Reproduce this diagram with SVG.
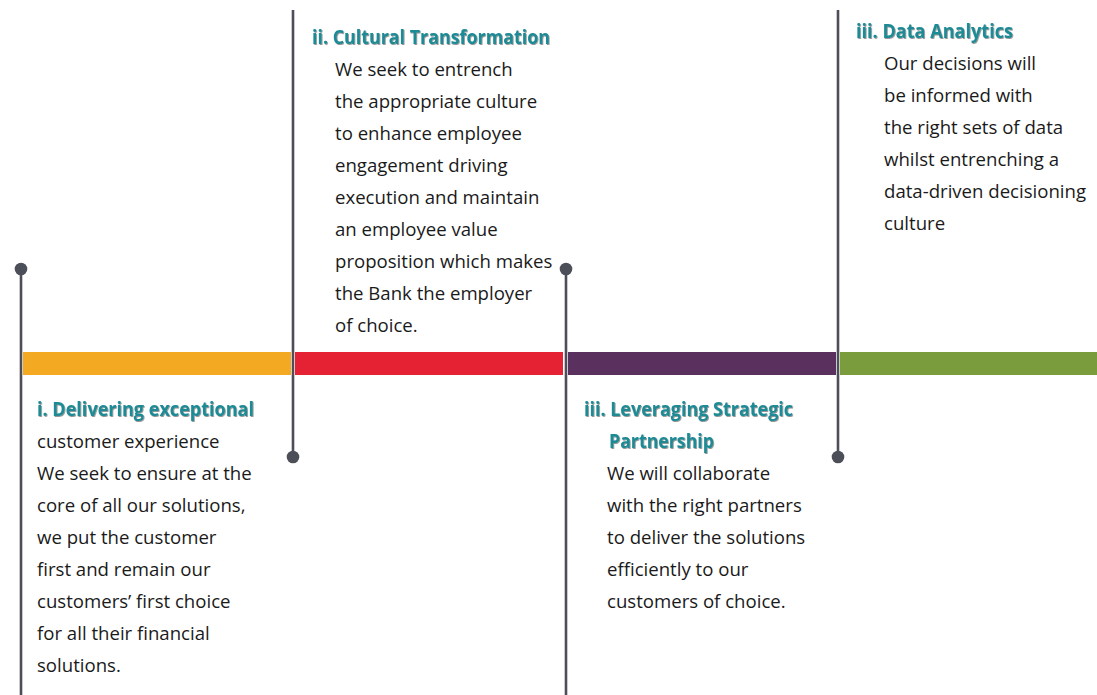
<svg xmlns="http://www.w3.org/2000/svg" width="1097" height="695" viewBox="0 0 1097 695">
  <defs>
    <filter id="hshadow" x="-5%" y="-30%" width="110%" height="160%">
      <feDropShadow dx="0.8" dy="0.9" stdDeviation="0.5" flood-color="#2a2a2a" flood-opacity="0.55"/>
    </filter>
  </defs>
  <style>
    .seg { stroke: none; }
    .stem { stroke: #4c4e58; stroke-width: 2.6; fill: none; }
    .dot { fill: #4c4e58; }
    .head { font-family: "Open Sans", "Liberation Sans", sans-serif; font-weight: 700; font-size: 19.5px; fill: #1d8b95; filter: url(#hshadow); }
    .body { font-family: "Open Sans", "Liberation Sans", sans-serif; font-size: 18.6px; fill: #1a1a1a; }
  </style>
  <rect width="1097" height="695" fill="#ffffff"/>

  <!-- timeline bar -->
  <g id="timeline">
    <rect class="seg" x="23" y="352" width="268" height="23" fill="#f4a922"/>
    <rect class="seg" x="295" y="352" width="268" height="23" fill="#e52234"/>
    <rect class="seg" x="568" y="352" width="268" height="23" fill="#5a315e"/>
    <rect class="seg" x="840" y="352" width="257" height="23" fill="#7a9c3d"/>
  </g>

  <!-- stems with end dots -->
  <g id="connectors">
    <line class="stem" x1="21" y1="269" x2="21" y2="695"/>
    <circle class="dot" cx="21" cy="269" r="6.3"/>
    <line class="stem" x1="293" y1="10" x2="293" y2="457"/>
    <circle class="dot" cx="293" cy="457" r="6.3"/>
    <line class="stem" x1="566" y1="269" x2="566" y2="695"/>
    <circle class="dot" cx="566" cy="269" r="6.3"/>
    <line class="stem" x1="838" y1="10" x2="838" y2="457"/>
    <circle class="dot" cx="838" cy="457" r="6.3"/>
  </g>

  <!-- i. customer experience -->
  <g id="node-customer">
    <text class="head" x="37" y="416" textLength="217" lengthAdjust="spacingAndGlyphs">i. Delivering exceptional</text>
    <text class="body" x="37" y="448">customer experience</text>
    <text class="body" x="37" y="480">We seek to ensure at the</text>
    <text class="body" x="37" y="512">core of all our solutions,</text>
    <text class="body" x="37" y="544">we put the customer</text>
    <text class="body" x="37" y="576">first and remain our</text>
    <text class="body" x="37" y="608">customers’ first choice</text>
    <text class="body" x="37" y="640">for all their financial</text>
    <text class="body" x="37" y="672">solutions.</text>
  </g>

  <!-- ii. culture -->
  <g id="node-culture">
    <text class="head" x="312" y="44" textLength="238" lengthAdjust="spacingAndGlyphs">ii. Cultural Transformation</text>
    <text class="body" x="335" y="76">We seek to entrench</text>
    <text class="body" x="335" y="108">the appropriate culture</text>
    <text class="body" x="335" y="140">to enhance employee</text>
    <text class="body" x="335" y="172">engagement driving</text>
    <text class="body" x="335" y="204">execution and maintain</text>
    <text class="body" x="335" y="236">an employee value</text>
    <text class="body" x="335" y="268">proposition which makes</text>
    <text class="body" x="335" y="300">the Bank the employer</text>
    <text class="body" x="335" y="332">of choice.</text>
  </g>

  <!-- iii. partnerships -->
  <g id="node-partnership">
    <text class="head" x="584" y="416" textLength="209" lengthAdjust="spacingAndGlyphs">iii. Leveraging Strategic</text>
    <text class="head" x="609" y="448" textLength="105" lengthAdjust="spacingAndGlyphs">Partnership</text>
    <text class="body" x="607" y="480">We will collaborate</text>
    <text class="body" x="607" y="512">with the right partners</text>
    <text class="body" x="607" y="544">to deliver the solutions</text>
    <text class="body" x="607" y="576">efficiently to our</text>
    <text class="body" x="607" y="608">customers of choice.</text>
  </g>

  <!-- iii. data -->
  <g id="node-data">
    <text class="head" x="856" y="38" textLength="157" lengthAdjust="spacingAndGlyphs">iii. Data Analytics</text>
    <text class="body" x="884" y="70">Our decisions will</text>
    <text class="body" x="884" y="102">be informed with</text>
    <text class="body" x="884" y="134">the right sets of data</text>
    <text class="body" x="884" y="166">whilst entrenching a</text>
    <text class="body" x="884" y="198">data-driven decisioning</text>
    <text class="body" x="884" y="230">culture</text>
  </g>
</svg>
